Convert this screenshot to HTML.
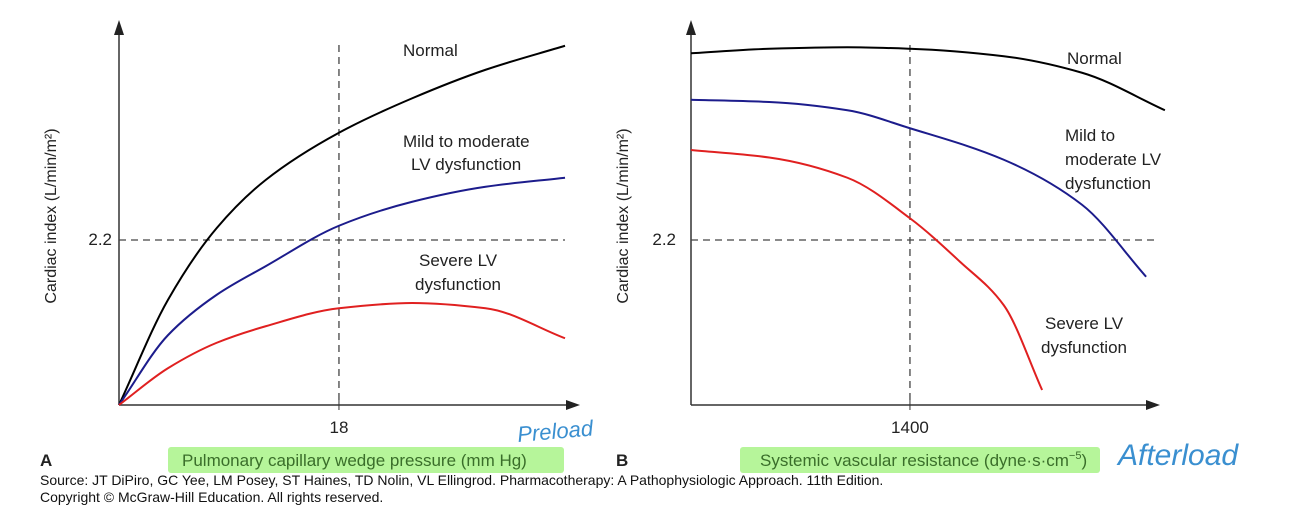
<!DOCTYPE html>
<html><head><meta charset="utf-8"><style>
body{margin:0;background:#fff;width:1300px;height:518px;overflow:hidden}
svg text{font-family:"Liberation Sans",sans-serif}
</style></head><body>
<svg id="c" width="1300" height="518" viewBox="0 0 1300 518">
<g id="g"></g>
</svg>
<script>
// Panel A data (x: PCWP mm Hg, y: cardiac index)
const aX = [0,4,8,12,18,24,30,36.5];
const aNormal = [0,1.4,2.36,3.0,3.63,4.09,4.47,4.79];
const aMild = [0,0.93,1.47,1.85,2.39,2.71,2.91,3.03];
const aSevere = [0,0.49,0.83,1.05,1.29,1.36,1.29,0.89];
// Panel B data (x: SVR, y: cardiac index)
const bXNormal = [0,500,1000,1400,2000,2500,3030];
const bNormal = [4.69,4.75,4.77,4.75,4.65,4.43,3.93];
const bXMild = [0,500,1000,1400,2000,2500,2910];
const bMild = [4.07,4.04,3.93,3.69,3.27,2.67,1.71];
const bXSevere = [0,500,1000,1400,1720,2000,2245];
const bSevere = [3.4,3.3,3.03,2.49,1.91,1.33,0.2];
const refA = {x:18,y:2.2}, refB = {x:1400,y:2.2};

const NS="http://www.w3.org/2000/svg", G=document.getElementById('g');
function el(t,a,txt){const e=document.createElementNS(NS,t);for(const k in a)e.setAttribute(k,a[k]);if(txt!==undefined)e.textContent=txt;G.appendChild(e);return e;}
const yS=v=>405-v*75;
const axA=v=>119+v*12.22;
const axB=v=>691+v*0.1564;
// monotone cubic (Fritsch-Carlson)
function smooth(p){const n=p.length,d=[],m=[];
 for(let i=0;i<n-1;i++)d.push((p[i+1][1]-p[i][1])/(p[i+1][0]-p[i][0]));
 m[0]=d[0];m[n-1]=d[n-2];
 for(let i=1;i<n-1;i++){if(d[i-1]*d[i]<=0)m[i]=0;else{const h0=p[i][0]-p[i-1][0],h1=p[i+1][0]-p[i][0];m[i]=(h0+h1)*3/((2*h1+h0)/d[i-1]+(h1+2*h0)/d[i]);}}
 let s=`M${p[0][0]},${p[0][1]}`;
 for(let i=0;i<n-1;i++){const h=(p[i+1][0]-p[i][0])/3;s+=` C${p[i][0]+h},${p[i][1]+m[i]*h} ${p[i+1][0]-h},${p[i+1][1]-m[i+1]*h} ${p[i+1][0]},${p[i+1][1]}`;}
 return s;}
function curve(xs,ys,fx,col,name){const p=el('path',{d:smooth(xs.map((x,i)=>[fx(x),yS(ys[i])])),fill:'none',stroke:col,'stroke-width':2});

}
function axes(x0,x1,pre){
 const a=el('path',{d:`M${x0},405 L${x1},405 M${x0},405 L${x0},30`,stroke:'#333','stroke-width':1.5,fill:'none'});
 
 
 el('path',{d:`M${x1+14},405 L${x1},400 L${x1},410 Z`,fill:'#222'});
 el('path',{d:`M${x0},20 L${x0-5},35 L${x0+5},35 Z`,fill:'#222'});
}
function hl(x,y,w,h,name){const r=el('rect',{x,y,width:w,height:h,fill:'#b6f59a',rx:3});}
hl(168,447,396,26,'highlight-a');hl(740,447,360,26,'highlight-b');
// Panel A
axes(119,566,'panel-a');
el('path',{d:`M${axA(refA.x)},45 L${axA(refA.x)},405 M119,${yS(refA.y)} L565,${yS(refA.y)}`,stroke:'#444','stroke-dasharray':'7,5','stroke-width':1.3,fill:'none'});
el('line',{x1:axA(refA.x),y1:400,x2:axA(refA.x),y2:410,stroke:'#333'});
curve(aX,aNormal,axA,'#000','normal-curve-a');
curve(aX,aMild,axA,'#1c1c8c','mild-curve-a');
curve(aX,aSevere,axA,'#e02020','severe-curve-a');
// Panel B
axes(691,1146,'panel-b');
el('path',{d:`M${axB(refB.x)},45 L${axB(refB.x)},405 M691,${yS(refB.y)} L1157,${yS(refB.y)}`,stroke:'#444','stroke-dasharray':'7,5','stroke-width':1.3,fill:'none'});
el('line',{x1:axB(refB.x),y1:400,x2:axB(refB.x),y2:410,stroke:'#333'});
curve(bXNormal,bNormal,axB,'#000','normal-curve-b');
curve(bXMild,bMild,axB,'#1c1c8c','mild-curve-b');
curve(bXSevere,bSevere,axB,'#e02020','severe-curve-b');
function t(x,y,s,opt,name){const e=el('text',Object.assign({x,y,'font-size':17,fill:'#222'},opt||{}),s);return e;}
t(403,56,'Normal',{},'label-normal-a');
t(403,147,'Mild to moderate',{},'label-mild-a');t(411,170,'LV dysfunction',{},'label-mild-a2');
t(419,266,'Severe LV',{},'label-severe-a');t(415,290,'dysfunction',{},'label-severe-a2');
t(112,245,'2.2',{'text-anchor':'end'},'ytick-a');
t(axA(refA.x),433,'18',{'text-anchor':'middle'},'xtick-a');
t(56,216,'Cardiac index (L/min/m²)',{'text-anchor':'middle','font-size':16,transform:'rotate(-90 56 216)'},'y-title-a');
t(182,466,'Pulmonary capillary wedge pressure (mm Hg)',{fill:'#3a6e2a'},'x-title-a');
t(40,466,'A',{'font-weight':'bold'},'panel-label-a');
t(1067,64,'Normal',{},'label-normal-b');
t(1065,141,'Mild to',{},'label-mild-b');t(1065,165,'moderate LV',{},'label-mild-b2');t(1065,189,'dysfunction',{},'label-mild-b3');
t(1045,329,'Severe LV',{},'label-severe-b');t(1041,353,'dysfunction',{},'label-severe-b2');
t(676,245,'2.2',{'text-anchor':'end'},'ytick-b');
t(axB(refB.x),433,'1400',{'text-anchor':'middle'},'xtick-b');
t(628,216,'Cardiac index (L/min/m²)',{'text-anchor':'middle','font-size':16,transform:'rotate(-90 628 216)'},'y-title-b');
const xb=t(760,466,'Systemic vascular resistance (dyne·s·cm',{fill:'#3a6e2a'},'x-title-b');
const sup=el('tspan',{dy:-7,'font-size':11},'−5');const cl=el('tspan',{dy:7},')');xb.appendChild(sup);xb.appendChild(cl);
t(616,466,'B',{'font-weight':'bold'},'panel-label-b');
t(40,485,'Source: JT DiPiro, GC Yee, LM Posey, ST Haines, TD Nolin, VL Ellingrod. Pharmacotherapy: A Pathophysiologic Approach. 11th Edition.',{'font-size':14,fill:'#111'},'source-note');
t(40,502,'Copyright © McGraw-Hill Education. All rights reserved.',{'font-size':14,fill:'#111'},'copyright-note');
t(518,442,'Preload',{'font-size':22,fill:'#3a8fd0','font-style':'italic',transform:'rotate(-5 518 442)'},'handwritten-preload');
t(1118,465,'Afterload',{'font-size':30,fill:'#3a8fd0','font-style':'italic'},'handwritten-afterload');
</script>
</body></html>
